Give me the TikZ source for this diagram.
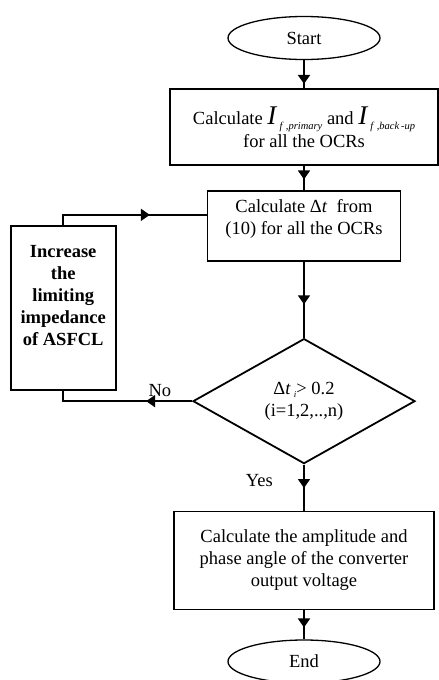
\documentclass[tikz,border=0pt]{standalone}
\usepackage{fontspec}
\setmainfont{Liberation Serif}
\usetikzlibrary{arrows.meta, positioning, shapes.geometric, decorations.markings}

\newcommand{\basefont}{\fontsize{18.5}{22}\selectfont}
\newcommand{\Icur}[1]{{\fontsize{27}{27}\selectfont\itshape I}\,\raisebox{-5pt}{\fontsize{10.5}{10.5}\selectfont\itshape f\,\,,#1}}

\begin{document}
\begin{tikzpicture}[
				node distance=25pt,
				every node/.style={font=\basefont},
				term/.style={ellipse, draw, line width=1.3pt, minimum width=152pt, minimum height=43pt, inner sep=0pt},
				process/.style={rectangle, draw, line width=1.8pt, align=center, inner sep=0pt},
				decision/.style={diamond, draw, line width=1.8pt, align=center, aspect=1.78, minimum width=222pt, minimum height=125pt, inner sep=0pt},
				line/.style={line width=1.8pt},
				midarrow/.style={line, decoration={markings, mark=at position #1 with {\arrow{Triangle[width=12pt,length=9pt]}}}, postaction={decorate}}
				]
				\useasboundingbox (0,0) rectangle (439pt,-680pt);
				
				% main column
				\node[term] (start) at (304pt,-38pt) {Start};
				\node[process, minimum width=268pt, minimum height=76pt, below=28pt of start] (calcI) {Calculate \Icur{primary} and \Icur{back\,-up}\\[1pt] for all the OCRs};
				\node[process, minimum width=193pt, minimum height=70pt, below=24pt of calcI] (calcDt) {Calculate Δ\textit{t}\enspace from\\(10) for all the OCRs\\[-4pt]};
				\node[decision, below=76pt of calcDt] (check) {Δ\textit{t}\,\raisebox{-3pt}{\fontsize{9}{9}\selectfont\itshape i}> 0.2\\(i=1,2,..,n)};
				\node[process, minimum width=260pt, minimum height=98pt, below=46pt of check] (calcV) {Calculate the amplitude and\\phase angle of the converter\\output voltage};
				\node[term, below=29pt of calcV] (end) {End};
				
				% feedback box
				\node[process, font=\basefont\bfseries, minimum width=105pt, minimum height=164pt, left=90pt of calcDt, yshift=-82pt] (incZ) {Increase\\the\\limiting\\impedance\\of ASFCL\\[2pt]\mbox{}};
				
				% connectors
				\draw[midarrow=0.85] (start) -- (calcI);
				\draw[midarrow=0.56] (calcI) -- (calcDt);
				\draw[midarrow=0.56] (calcDt) -- (check);
				\draw[midarrow=0.51] (check) -- node[pos=0.35, left=27pt] {Yes} (calcV);
				\draw[midarrow=0.59] (calcV) -- (end);
				
				\draw[midarrow=0.33] (check.west) -- node[pos=0.25, above=0pt] {No} (check.west -| incZ) -- (incZ.south);
				\draw[midarrow=0.63] (incZ.north) |- ([yshift=11pt]calcDt.west);
				
			\end{tikzpicture}
\end{document}
